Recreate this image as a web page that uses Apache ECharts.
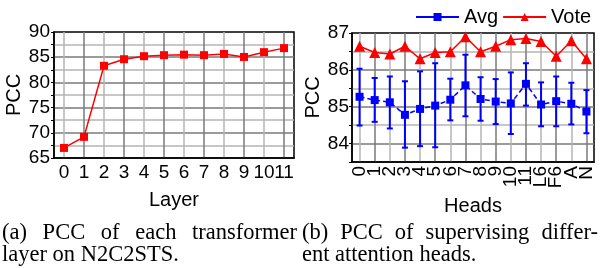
<!DOCTYPE html>
<html>
<head>
<meta charset="utf-8">
<script src="https://cdn.jsdelivr.net/npm/echarts@6/dist/echarts.min.js"></script>
<style>
  html, body { margin: 0; padding: 0; background: #fff; }
  #chart { position: absolute; left: 0; top: 0; width: 602px; height: 268px; }
  .cap {
    position: absolute;
    font-family: 'Liberation Serif', 'Times New Roman', serif;
    font-size: 22.5px;
    line-height: 22px;
    color: #000;
    white-space: nowrap;
  }
  .just { white-space: normal; text-align: justify; text-align-last: justify; }
</style>
</head>
<body>
<div id="chart"></div>
<div class="cap just" style="left:2px; top:221px; width:295px;">(a) PCC of each transformer</div>
<div class="cap" style="left:2px; top:243px;">layer on N2C2STS.</div>
<div class="cap just" style="left:302px; top:221px; width:296px;">(b) PCC of supervising differ-</div>
<div class="cap" style="left:302px; top:243px;">ent attention heads.</div>

<script>
// (a) PCC per transformer layer
let layers = ['0', '1', '2', '3', '4', '5', '6', '7', '8', '9', '10', '11']
let layerPcc = [67.0, 69.2, 83.3, 84.6, 85.2, 85.4, 85.5, 85.4, 85.65, 85.05, 86.0, 86.8]

// (b) PCC per supervised head
let heads = ['0', '1', '2', '3', '4', '5', '6', '7', '8', '9', '10', '11', 'L6', 'F6', 'A', 'N']
let avgPcc = [85.27, 85.18, 85.12, 84.78, 84.94, 85.03, 85.19, 85.58, 85.21, 85.14, 85.09, 85.62, 85.06, 85.15, 85.08, 84.87]
let avgLow = [84.49, 84.59, 84.41, 83.89, 83.93, 83.90, 84.63, 84.74, 84.62, 84.53, 84.26, 85.03, 84.47, 84.47, 84.52, 84.28]
let avgHigh = [86.03, 85.78, 85.82, 85.69, 85.96, 86.18, 85.76, 86.41, 85.80, 85.75, 85.93, 86.18, 85.66, 85.82, 85.65, 85.45]
let votePcc = [86.64, 86.47, 86.43, 86.64, 86.30, 86.47, 86.49, 86.90, 86.49, 86.64, 86.82, 86.85, 86.77, 86.37, 86.79, 86.30]

let font = 'Liberation Sans'
let light = '#b4b4b4'
let dark = '#7a7a7a'

function catAxis(grid, data, extra) {
  let axis = {
    gridIndex: grid,
    type: 'category',
    data: data,
    boundaryGap: true,
    nameLocation: 'middle',
    nameTextStyle: {fontFamily: font, fontSize: 20, color: '#000'},
    axisLine: {lineStyle: {color: '#000', width: 1.5}},
    axisTick: {alignWithLabel: true, length: 4, lineStyle: {color: '#000', width: 1}},
    axisLabel: {interval: 0, fontFamily: font, fontSize: 19, color: '#000', margin: 5},
    splitLine: {show: true, alignWithLabel: true, lineStyle: {color: [light, dark], width: 1.5}}
  }
  return Object.assign(axis, extra)
}

function valAxis(grid, min, max, extra) {
  let axis = {
    gridIndex: grid,
    type: 'value',
    min: min,
    max: max,
    interval: 2.5,
    name: 'PCC',
    nameLocation: 'middle',
    nameTextStyle: {fontFamily: font, fontSize: 20, color: '#000'},
    axisLine: {show: true, lineStyle: {color: '#000', width: 1.5}},
    axisTick: {show: true, length: 3, lineStyle: {color: '#000', width: 1}},
    axisLabel: {fontFamily: font, fontSize: 19, color: '#000', margin: 4},
    splitLine: {show: true, showMinLine: false, showMaxLine: false, lineStyle: {color: [light, dark], width: 1.5}}
  }
  return Object.assign(axis, extra)
}

let chart = echarts.init(document.getElementById('chart'))

let option = {
  animation: false,
  backgroundColor: '#fff',
  grid: [
    {left: 54, top: 32, width: 240, height: 126, show: true, borderColor: '#000', borderWidth: 1.5, backgroundColor: 'transparent'},
    {left: 352, top: 33, width: 242, height: 129, show: true, borderColor: '#000', borderWidth: 1.5, backgroundColor: 'transparent'}
  ],
  legend: {
    data: [
      {name: 'Avg', lineStyle: {type: 'solid'}},
      {name: 'Vote'}
    ],
    left: 410,
    top: 2,
    itemWidth: 43,
    itemHeight: 10,
    itemGap: 4,
    textStyle: {fontFamily: font, fontSize: 20, color: '#000'}
  },
  xAxis: [
    catAxis(0, layers, {name: 'Layer', nameGap: 32}),
    catAxis(1, heads, {
      name: 'Heads',
      nameGap: 34,
      axisLabel: {interval: 0, rotate: 90, fontFamily: font, fontSize: 19, color: '#000', margin: 4}
    })
  ],
  yAxis: [
    valAxis(0, 65, 90, {
      nameGap: 26,
      axisLabel: {
        fontFamily: font, fontSize: 19, color: '#000', margin: 4,
        formatter: v => (v % 5 === 0 ? String(v) : '')
      }
    }),
    valAxis(1, 83.5, 87, {
      interval: 0.5,
      nameGap: 25,
      splitLine: {show: true, showMinLine: false, showMaxLine: false, lineStyle: {color: [dark, light], width: 1.5}},
      axisLabel: {
        fontFamily: font, fontSize: 19, color: '#000', margin: 3,
        formatter: v => (Number.isInteger(v) ? String(v) : '')
      }
    })
  ],
  series: [
    {
      name: 'layer',
      type: 'line',
      xAxisIndex: 0,
      yAxisIndex: 0,
      data: layerPcc,
      symbol: 'rect',
      symbolSize: 8,
      color: '#ff0000',
      lineStyle: {width: 1.5, color: '#ff0000'},
      z: 3
    },
    {
      name: 'err',
      type: 'custom',
      xAxisIndex: 1,
      yAxisIndex: 1,
      data: heads.map((h, i) => [i, avgLow[i], avgHigh[i]]),
      encode: {x: 0, y: [1, 2]},
      renderItem: function (params, api) {
        let i = api.value(0)
        let lo = api.coord([i, api.value(1)])
        let hi = api.coord([i, api.value(2)])
        let w = 3
        let style = {stroke: '#0000ff', lineWidth: 2}
        return {
          type: 'group',
          children: [
            {type: 'line', shape: {x1: hi[0], y1: hi[1], x2: lo[0], y2: lo[1]}, style: style},
            {type: 'line', shape: {x1: hi[0] - w, y1: hi[1], x2: hi[0] + w, y2: hi[1]}, style: style},
            {type: 'line', shape: {x1: lo[0] - w, y1: lo[1], x2: lo[0] + w, y2: lo[1]}, style: style}
          ]
        }
      },
      z: 2
    },
    {
      name: 'Avg',
      type: 'line',
      xAxisIndex: 1,
      yAxisIndex: 1,
      data: avgPcc,
      symbol: 'rect',
      symbolSize: 8,
      color: '#0000ff',
      lineStyle: {width: 1.5, color: '#0000ff', type: [5, 3]},
      z: 3
    },
    {
      name: 'Vote',
      type: 'line',
      xAxisIndex: 1,
      yAxisIndex: 1,
      data: votePcc,
      symbol: 'triangle',
      symbolSize: 11,
      color: '#ff0000',
      lineStyle: {width: 1.5, color: '#ff0000'},
      z: 3
    }
  ]
}

chart.setOption(option)
</script>
</body>
</html>
